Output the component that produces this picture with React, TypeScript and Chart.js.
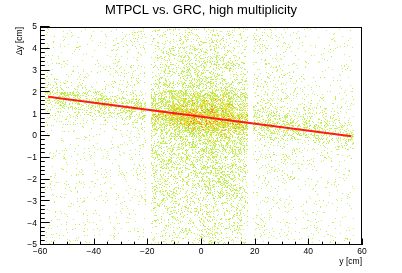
import { useEffect, useRef } from "react";
import { Chart, registerables } from "chart.js";

Chart.register(...registerables);

const TITLE = "MTPCL vs. GRC, high multiplicity";
const X_LABEL = "y [cm]";
const Y_LABEL = "\u0394y [cm]";

// x bin edges of the density map [cm]
const X_EDGES = [-58, -54, -50, -46, -42, -38, -34, -30, -26, -23, -20.5, -18.6, -15, -12, -9, -6, -3, 0, 3, 6, 9, 12, 15, 17.6, 19.5, 23, 27, 31, 35, 39, 43, 47, 51, 54, 57];
// y bin edges of the density map [cm], top to bottom
const Y_EDGES = [5, 4.5, 4, 3.5, 3, 2.5, 2.25, 2, 1.75, 1.5, 1.25, 1, 0.75, 0.5, 0.25, 0, -0.25, -0.5, -1, -1.5, -2, -2.5, -3, -3.5, -4, -4.5, -5];
// density level (0-9) per cell, one string per y row (top first), one digit per x bin
const DENSITY = [
  "1111111222" + "0" + "333343333322" + "0" + "2211111111",
  "1111111222" + "0" + "334444444333" + "0" + "2211111111",
  "1111112222" + "0" + "344444444433" + "0" + "2221111111",
  "1111122222" + "0" + "444455554443" + "0" + "2221111111",
  "1111122222" + "0" + "444555555444" + "0" + "2222111111",
  "3332222222" + "0" + "555566665554" + "0" + "2222111111",
  "4443332222" + "0" + "556666666655" + "0" + "2222111111",
  "6665554443" + "0" + "667777777766" + "0" + "3322222111",
  "6666666665" + "0" + "677788887766" + "0" + "3333222211",
  "4555666666" + "0" + "778888888877" + "0" + "4433332222",
  "3334455667" + "0" + "889999998877" + "0" + "5544433222",
  "2222333445" + "0" + "889999999988" + "0" + "6555443322",
  "1122222233" + "0" + "778899999998" + "0" + "6666555433",
  "1111112222" + "0" + "667788888888" + "0" + "6666666554",
  "1111111222" + "0" + "556677777777" + "0" + "4456666666",
  "1111111122" + "0" + "556666677766" + "0" + "3334445566",
  "1111111112" + "0" + "555566666655" + "0" + "2222233344",
  "1111111112" + "0" + "555555666655" + "0" + "2222222222",
  "1111111122" + "0" + "455555555555" + "0" + "2222221111",
  "1111111122" + "0" + "444455555554" + "0" + "2222111111",
  "1111111112" + "0" + "444444555554" + "0" + "2222111111",
  "1111111112" + "0" + "444444445544" + "0" + "2221111111",
  "1111111111" + "0" + "444444444444" + "0" + "2211111111",
  "1111111111" + "0" + "334444444443" + "0" + "2211111111",
  "1111111111" + "0" + "333344444443" + "0" + "2211111111",
  "1111111111" + "0" + "333333444433" + "0" + "2111111111",
];
// linear fit line
const FIT_X = [-57, 56];
const FIT_Y = [1.8, -0.013];

// rendering style
const FILL = [0, 0.035, 0.07, 0.12, 0.18, 0.27, 0.37, 0.52, 0.68, 0.85];
const COLORS = ["#c8f264", "#b6ea46", "#f0e63e", "#f8b430", "#f28a28"];
const MIX = [
  [1, 0, 0, 0, 0],
  [0.9, 0.1, 0, 0, 0],
  [0.85, 0.15, 0, 0, 0],
  [0.8, 0.2, 0, 0, 0],
  [0.78, 0.22, 0, 0, 0],
  [0.72, 0.26, 0.02, 0, 0],
  [0.6, 0.32, 0.08, 0, 0],
  [0.45, 0.32, 0.18, 0.05, 0],
  [0.3, 0.3, 0.25, 0.12, 0.03],
  [0.15, 0.22, 0.3, 0.2, 0.13],
];
const FONT = "'Liberation Sans', Arial, Helvetica, sans-serif";

// deterministic per-pixel dither threshold (integer hash of pixel coordinates)
function dither(x: number, y: number, s: number) {
  let h = (Math.imul(x, 374761393) + Math.imul(y, 668265263) + Math.imul(s, 1442695041)) | 0;
  h = Math.imul(h ^ (h >>> 13), 1274126177);
  h ^= h >>> 16;
  h = Math.imul(h, 2246822519);
  h ^= h >>> 13;
  return (h >>> 0) / 4294967296;
}

const densityPlugin = {
  id: "densityMap",
  beforeDatasetsDraw(chart: any) {
    const { ctx, chartArea: a, scales } = chart;
    const xs = scales.x;
    const ys = scales.y;
    ctx.save();
    ctx.beginPath();
    ctx.rect(a.left, a.top, a.right - a.left, a.bottom - a.top);
    ctx.clip();
    const paths = COLORS.map(() => new Path2D());
    for (let r = 0; r < DENSITY.length; r++) {
      const row = DENSITY[r];
      const y0 = Math.round(ys.getPixelForValue(Y_EDGES[r]));
      const y1 = Math.round(ys.getPixelForValue(Y_EDGES[r + 1]));
      for (let c = 0; c < row.length; c++) {
        const lvl = Number(row[c]);
        if (!lvl) continue;
        const x0 = Math.round(xs.getPixelForValue(X_EDGES[c]));
        const x1 = Math.round(xs.getPixelForValue(X_EDGES[c + 1]));
        const fill = FILL[lvl];
        const mix = MIX[lvl];
        for (let py = y0; py < y1; py++) {
          for (let px = x0; px < x1; px++) {
            if (dither(px, py, 1) >= fill) continue;
            const t = dither(px, py, 2);
            let k = 0;
            let acc = mix[0];
            while (t >= acc && k < mix.length - 1) {
              k++;
              acc += mix[k];
            }
            paths[k].rect(px, py, 1, 1);
          }
        }
      }
    }
    paths.forEach((p: Path2D, k: number) => {
      ctx.fillStyle = COLORS[k];
      ctx.fill(p);
    });
    ctx.restore();
  },
  afterDraw(chart: any) {
    const { ctx, chartArea: a, scales, width } = chart;
    const xs = scales.x;
    const ys = scales.y;
    ctx.save();
    ctx.strokeStyle = "#000";
    ctx.lineWidth = 1;
    ctx.beginPath();
    for (let v = -60; v <= 60; v += 5) {
      const px = Math.round(xs.getPixelForValue(v)) + 0.5;
      const len = v % 20 === 0 ? 6.5 : 3.3;
      ctx.moveTo(px, a.bottom);
      ctx.lineTo(px, a.bottom - len);
    }
    for (let i = -25; i <= 25; i++) {
      const v = i / 5;
      const py = Math.round(ys.getPixelForValue(v)) - 0.5;
      const len = i % 5 === 0 ? 9.7 : 4.8;
      ctx.moveTo(a.left, py);
      ctx.lineTo(a.left + len, py);
    }
    ctx.stroke();
    ctx.strokeRect(Math.round(a.left) + 0.5, Math.round(a.top) + 0.5, Math.round(a.right - a.left) - 1, Math.round(a.bottom - a.top) - 1);
    // title, centred on the canvas like the ROOT pad title
    ctx.fillStyle = "#000";
    ctx.font = `13px ${FONT}`;
    ctx.textAlign = "center";
    ctx.textBaseline = "alphabetic";
    ctx.fillText(TITLE, width / 2, 14);
    ctx.restore();
  },
};

const minus = (v: any) => String(v).replace("-", "\u2212");

export default function App() {
  const ref = useRef<HTMLCanvasElement | null>(null);
  useEffect(() => {
    if (!ref.current) return;
    const chart = new Chart(ref.current, {
      type: "scatter",
      data: {
        datasets: [
          {
            type: "line",
            label: "fit",
            data: FIT_X.map((x, i) => ({ x, y: FIT_Y[i] })),
            borderColor: "#ff1a1a",
            borderWidth: 2,
            pointRadius: 0,
            fill: false,
          } as any,
        ],
      },
      options: {
        animation: false,
        responsive: false,
        devicePixelRatio: 1,
        layout: { padding: { left: 0, right: 40, top: 27, bottom: 0 } },
        plugins: {
          legend: { display: false },
          tooltip: { enabled: false },
          title: { display: false },
        },
        scales: {
          x: {
            type: "linear",
            min: -60,
            max: 60,
            grid: { display: false, drawTicks: false },
            border: { display: false },
            ticks: {
              stepSize: 20,
              autoSkip: false,
              maxRotation: 0,
              padding: 2,
              color: "#000",
              font: { family: FONT, size: 8.5 },
              callback: minus,
            },
            title: {
              display: true,
              text: X_LABEL,
              align: "end",
              color: "#000",
              font: { family: FONT, size: 8.5 },
              padding: { top: 0, bottom: 6 },
            },
            afterFit: (s: any) => {
              s.height = 28;
            },
          },
          y: {
            type: "linear",
            min: -5,
            max: 5,
            grid: { display: false, drawTicks: false },
            border: { display: false },
            ticks: {
              stepSize: 1,
              autoSkip: false,
              padding: 3,
              color: "#000",
              font: { family: FONT, size: 8.5 },
              callback: minus,
            },
            title: {
              display: true,
              text: Y_LABEL,
              align: "end",
              color: "#000",
              font: { family: FONT, size: 8.5 },
              padding: { top: 15, bottom: 0 },
            },
            afterFit: (s: any) => {
              s.width = 40;
            },
          },
        },
      } as any,
      plugins: [densityPlugin],
    });
    return () => chart.destroy();
  }, []);
  return (
    <div style={{ position: "fixed", left: 0, top: 0, width: 402, height: 273, background: "#fff" }}>
      <canvas ref={ref} width={402} height={273} />
    </div>
  );
}
